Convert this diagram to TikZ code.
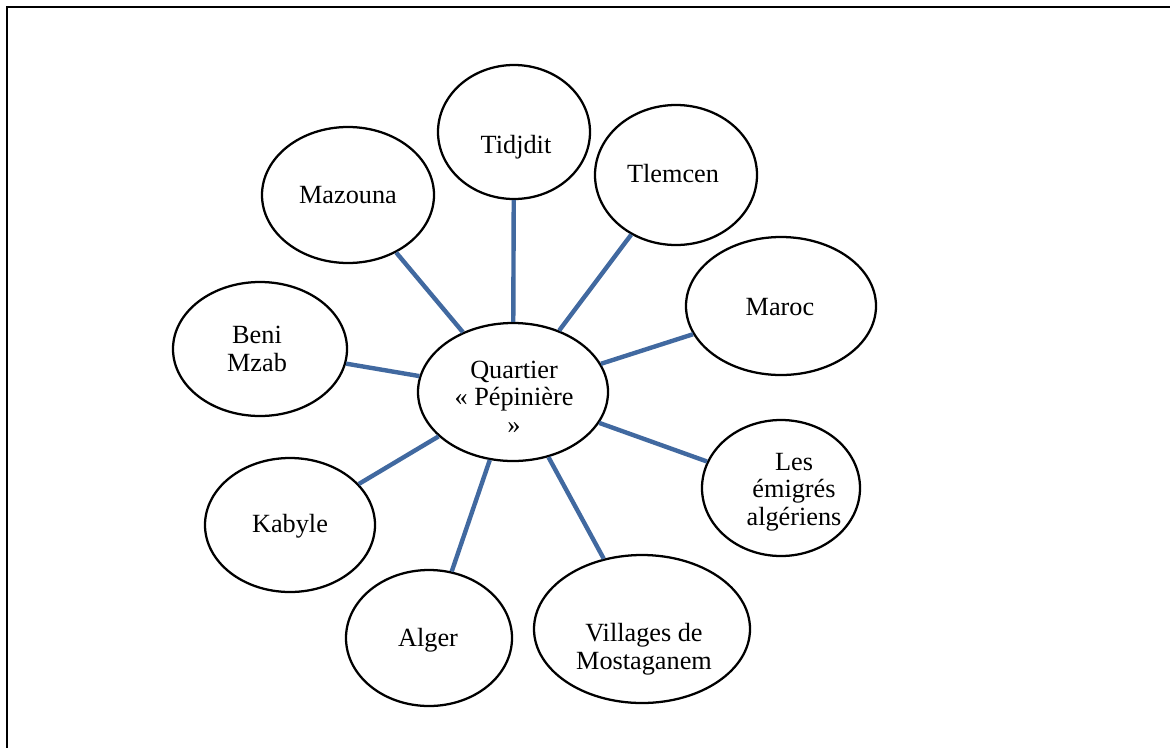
\documentclass[tikz,border=0pt]{standalone}
\usepackage{fontspec}
\setmainfont{Liberation Serif}
\usetikzlibrary{shapes.geometric}
\definecolor{linkblue}{RGB}{65,105,160}
\tikzset{
  bub/.style 2 args={draw=black, line width=1.7pt, fill=white, ellipse, inner sep=0pt,
    minimum width=#1*1.5pt, minimum height=#2*1.5pt},
  lbl/.style={font=\fontsize{19.7}{20.3}\selectfont, align=center, anchor=base, inner sep=0pt},
  link/.style={draw=linkblue, line width=3.3pt},
  frame/.style={draw=black, line width=1.6pt}
}
\begin{document}
\begin{tikzpicture}[x=0.75pt, y=-0.75pt]
  \useasboundingbox (0,0) rectangle (1170,747);
  % page frame (left and top edges)
  \coordinate (fbl) at (7,760);
  \coordinate (ftl) at (7,7);
  \coordinate (ftr) at (1180,7);
  \draw[frame] (fbl) -- (ftl) -- (ftr);

  % bubbles
  \node[bub={95}{69}] (hub) at (513,392) {};
  \node[bub={76}{67}] (tidjdit) at (514,132) {};
  \node[bub={81}{70}] (tlemcen) at (676,175) {};
  \node[bub={86}{68}] (mazouna) at (348,195) {};
  \node[bub={95}{69}] (maroc) at (781,306) {};
  \node[bub={87}{67}] (beni) at (260,349) {};
  \node[bub={85}{67}] (kabyle) at (290,525) {};
  \node[bub={83}{68}] (alger) at (429,638) {};
  \node[bub={108}{74}] (villages) at (642,629) {};
  \node[bub={79}{68}] (emigres) at (781,488) {};

  % spokes
  \foreach \n in {tidjdit,tlemcen,mazouna,maroc,beni,kabyle,alger,villages,emigres}
    \draw[link] (hub) -- (\n);

  % labels (anchored on the baseline of the last line)
  \node[lbl] (t-hub) at (514,433) {Quartier\\« Pépinière\\»};
  \node[lbl] (t-tidjdit) at (516,153) {Tidjdit};
  \node[lbl] (t-tlemcen) at (673,182) {Tlemcen};
  \node[lbl] (t-mazouna) at (348,203) {Mazouna};
  \node[lbl] (t-maroc) at (780,315) {Maroc};
  \node[lbl] (t-beni) at (257,371) {Beni\\Mzab};
  \node[lbl] (t-kabyle) at (290,532) {Kabyle};
  \node[lbl] (t-alger) at (428,646) {Alger};
  \node[lbl] (t-villages) at (644,669) {Villages de\\Mostaganem};
  \node[lbl] (t-emigres) at (794,525) {Les\\émigrés\\algériens};
\end{tikzpicture}
\end{document}
